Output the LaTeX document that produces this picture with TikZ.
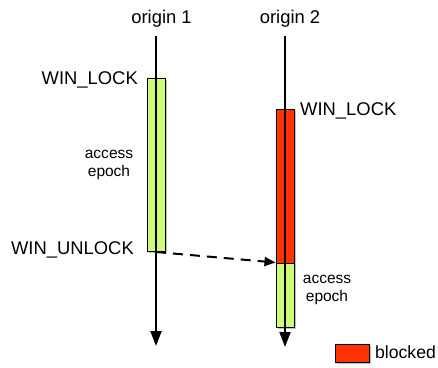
\documentclass[tikz,border=0pt]{standalone}
\usepackage{fontspec}
\setmainfont{Liberation Sans}
\usetikzlibrary{arrows.meta,shadows}
\definecolor{epochgreen}{RGB}{206,250,122}
\definecolor{blockred}{RGB}{255,51,0}
\tikzset{
  lbl/.style={font=\fontsize{18.4}{20}\selectfont, inner sep=0pt},
  small/.style={font=\fontsize{15.5}{17.5}\selectfont, inner sep=0pt, align=center},
  bar/.style={draw=black, line width=1pt, minimum width=18pt, inner sep=0pt,
     drop shadow={shadow xshift=2pt, shadow yshift=-2pt, opacity=0.25, fill=black}},
  timeline/.style={line width=2pt, -{Triangle[width=11pt,length=15pt]}},
  msg/.style={line width=2pt, dash pattern=on 10pt off 7pt, -{Triangle[width=9pt,length=11pt]}}
}
\begin{document}
\begin{tikzpicture}[x=1pt,y=-1pt]
\useasboundingbox (0,0) rectangle (438,367);
% bars
\node[bar, fill=epochgreen, minimum height=173pt] (g1) at (156,164.5) {};
\node[bar, fill=blockred, minimum height=154pt] (r2) at (285,186) {};
\node[bar, fill=epochgreen, minimum height=64pt] (g2) at (285,295) {};
% timelines
\coordinate (t1) at (156,36);
\coordinate (e1) at (156,346);
\coordinate (t2) at (285,36);
\coordinate (e2) at (285,347);
\draw[timeline] (t1) -- (e1);
\draw[timeline] (t2) -- (e2);
% labels
\node[lbl] (o1) at (161.5,19) {origin 1};
\node[lbl] (o2) at (290,19) {origin 2};
\node[lbl, anchor=east] (wl1) at (138,80) {WIN\_LOCK};
\node[lbl, anchor=west] (wl2) at (300,111) {WIN\_LOCK};
\node[lbl, anchor=east] (wu1) at (134,250) {WIN\_UNLOCK};
\node[small] (ae1) at (109,165) {access\\epoch};
\node[small] (ae2) at (327,290) {access\\epoch};
% message
\coordinate (m1) at (156,252);
\draw[msg] (m1) -- (g2.north west);
% legend
\node[draw=black, line width=1pt, fill=blockred, minimum width=34pt, minimum height=18pt, inner sep=0pt,
  drop shadow={shadow xshift=2pt, shadow yshift=-2pt, opacity=0.25, fill=black}] (leg) at (352,353) {};
\node[lbl, anchor=west, font=\fontsize{17.6}{19}\selectfont] (legt) at (375,352.5) {blocked};
\end{tikzpicture}
\end{document}
